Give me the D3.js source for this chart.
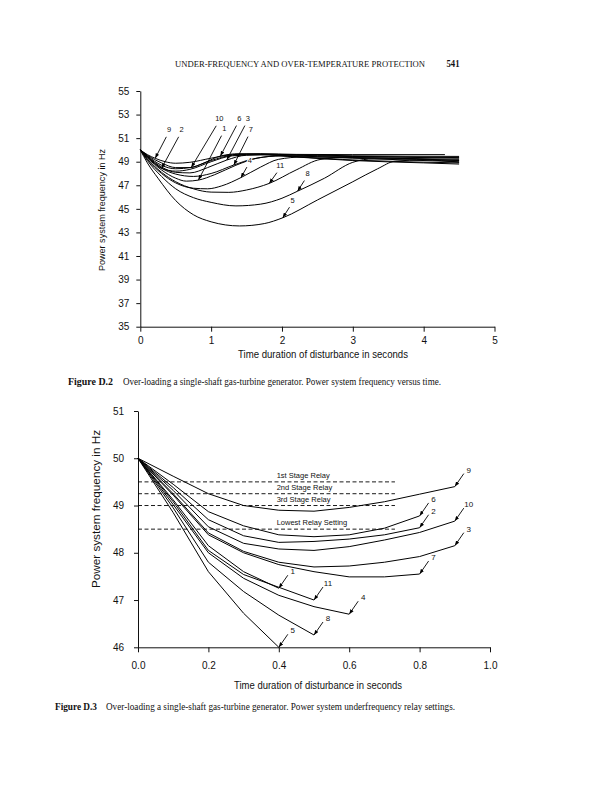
<!DOCTYPE html>
<html><head><meta charset="utf-8">
<script src="https://cdn.jsdelivr.net/npm/d3@7"></script>
<style>
body{margin:0;background:#fff}
text{fill:#111}
.sans{font-family:"Liberation Sans",Arial,Helvetica,sans-serif}
.serif{font-family:"Liberation Serif","Times New Roman",Times,serif}
.halo{stroke:#fff;stroke-width:2.2px;paint-order:stroke;stroke-linejoin:round}
</style>
</head><body>
<svg id="page" width="615" height="800"></svg>
<script>
// ---------- DATA: Figure D.2 (time in s, frequency in Hz) ----------
const fig2Names = ["9","2","10","6","3","1","7","4","11","8","5"];
const fig2_c9  = [[0,50],[0.1,49.6],[0.21,49.29],[0.35,49.0],[0.5,48.87],[0.7,48.95],[1.0,49.3],[1.3,49.6],[1.7,49.68],[2.2,49.62],[3.0,49.6],[4.3,49.6]];
const fig2_c2  = [[0,50],[0.1,49.45],[0.3,48.44],[0.5,48.2],[0.7,48.35],[1.0,49.0],[1.3,49.5],[1.7,49.6],[2.2,49.4],[3.0,49.1],[4.0,48.9],[4.5,48.8]];
const fig2_c10 = [[0,50],[0.1,49.5],[0.3,48.7],[0.5,48.4],[0.72,48.52],[1.0,49.1],[1.3,49.55],[1.7,49.65],[2.5,49.5],[3.5,49.4],[4.5,49.3]];
const fig2_c6  = [[0,50],[0.1,49.55],[0.3,48.9],[0.5,48.5],[0.7,48.5],[0.9,48.9],[1.13,49.48],[1.4,49.68],[1.8,49.6],[2.5,49.3],[3.2,49.1],[4.5,48.9]];
const fig2_c3  = [[0,50],[0.1,49.45],[0.3,48.55],[0.5,48.1],[0.7,48.05],[0.95,48.5],[1.22,49.14],[1.5,49.55],[2.0,49.6],[3.0,49.5],[4.5,49.45]];
const fig2_c1  = [[0,50],[0.1,49.35],[0.3,48.3],[0.5,47.6],[0.65,47.35],[0.82,47.44],[1.05,47.9],[1.35,48.7],[1.65,49.3],[2.0,49.5],[3.0,49.45],[4.5,49.35]];
const fig2_c7  = [[0,50],[0.1,49.4],[0.3,48.45],[0.5,47.95],[0.75,47.75],[1.0,48.0],[1.32,48.72],[1.6,49.25],[2.0,49.5],[3.0,49.3],[4.5,49.0]];
const fig2_c4  = [[0,50],[0.1,49.2],[0.3,48.0],[0.5,47.2],[0.75,46.75],[0.95,46.7],[1.15,46.95],[1.42,47.65],[1.7,48.55],[1.95,49.2],[2.3,49.4],[3.0,49.35],[4.5,49.2]];
const fig2_c11 = [[0,50],[0.1,49.25],[0.3,48.1],[0.5,47.3],[0.75,46.7],[1.0,46.42],[1.25,46.4],[1.5,46.6],[1.82,47.16],[2.2,48.3],[2.55,49.2],[2.9,49.35],[4.5,49.1]];
const fig2_c8  = [[0,50],[0.1,49.1],[0.3,47.75],[0.5,46.7],[0.75,45.95],[1.0,45.55],[1.35,45.25],[1.7,45.4],[2.0,45.9],[2.22,46.5],[2.6,47.6],[3.0,48.95],[3.3,49.25],[4.5,49.1]];
const fig2_c5  = [[0,50],[0.1,48.9],[0.25,47.6],[0.5,45.7],[0.75,44.5],[1.0,43.9],[1.4,43.55],[1.75,43.75],[2.01,44.24],[2.5,45.75],[3.0,47.3],[3.35,48.4],[3.6,49.05],[4.0,49.15],[4.5,48.95]];
const fig2Series = [fig2_c9,fig2_c2,fig2_c10,fig2_c6,fig2_c3,fig2_c1,fig2_c7,fig2_c4,fig2_c11,fig2_c8,fig2_c5];
const fig2TipTime = [0.21,0.3,0.72,1.13,1.22,0.82,1.32,1.42,1.82,2.22,2.01];
const fig2XTicks = [0,1,2,3,4,5];
const fig2YTicks = [35,37,39,41,43,45,47,49,51,53,55];

// ---------- DATA: Figure D.3 ----------
const fig3Time = [0,0.1,0.2,0.3,0.4,0.5,0.6,0.7,0.8,0.9];
const fig3Names = ["9","6","2","10","3","7","1","11","4","8","5"];
const fig3_c9  = [50,49.62,49.25,49.0,48.9,48.88,48.96,49.08,49.24,49.4];
const fig3_c6  = [50,49.45,48.87,48.57,48.38,48.34,48.38,48.52,48.78];
const fig3_c2  = [50,49.38,48.7,48.36,48.22,48.24,48.29,48.38,48.53];
const fig3_c10 = [50,49.32,48.55,48.2,48.08,48.05,48.13,48.27,48.43,48.67];
const fig3_c3  = [50,49.25,48.42,48.03,47.8,47.7,47.72,47.8,47.92,48.15];
const fig3_c7  = [50,49.22,48.38,48.0,47.75,47.6,47.49,47.49,47.55];
const fig3_c1  = [50,49.12,48.15,47.6,47.25];
const fig3_c11 = [50,49.08,48.05,47.54,47.27,47.0];
const fig3_c4  = [50,49.02,48.0,47.46,47.1,46.86,46.7];
const fig3_c8  = [50,48.95,47.8,47.18,46.68,46.26];
const fig3_c5  = [50,48.85,47.6,46.72,46.0];
const fig3Series = [fig3_c9,fig3_c6,fig3_c2,fig3_c10,fig3_c3,fig3_c7,fig3_c1,fig3_c11,fig3_c4,fig3_c8,fig3_c5];
const relayNames = ["1st Stage Relay","2nd Stage Relay","3rd Stage Relay","Lowest Relay Setting"];
const relayValues = [49.5,49.25,49.0,48.5];
const relayEnd = 0.73;
const fig3XTicks = [0,0.2,0.4,0.6,0.8,1.0];
const fig3YTicks = [46,47,48,49,50,51];

// ---------- LAYOUT / STYLE ----------
const svg = d3.select("#page");
svg.append("rect").attr("width",615).attr("height",800).attr("fill","#fff");
const defs = svg.append("defs");
defs.append("marker").attr("id","arr").attr("viewBox","0 0 8 6").attr("refX",8).attr("refY",3)
  .attr("markerWidth",5).attr("markerHeight",4).attr("orient","auto").attr("markerUnits","userSpaceOnUse")
  .append("path").attr("d","M0,0 L8,3 L0,6 z").attr("fill","#000");

// label offsets (px) for Fig D.2 annotations, in series order
const fig2LabelOff = [[13,-25],[19,-35],[27,-45],[18,-34],[20,-38],[25,-48],[16,-32],[8,-14],[10,-14],[9,-14],[9,-14]];

// header
svg.append("text").attr("class","serif").attr("x",175).attr("y",66.5).attr("font-size",9)
  .attr("textLength",250).attr("lengthAdjust","spacingAndGlyphs")
  .text("UNDER-FREQUENCY AND OVER-TEMPERATURE PROTECTION");
svg.append("text").attr("class","serif").attr("x",446.5).attr("y",66.5).attr("font-size",9.5)
  .attr("font-weight","bold").attr("textLength",13).attr("lengthAdjust","spacingAndGlyphs").text("541");

// ---------- FIGURE D.2 ----------
(function(){
  const x = d3.scaleLinear().domain([0,5]).range([140.3,494.5]);
  const y = d3.scaleLinear().domain([35,55]).range([326.7,91]);
  const g = svg.append("g");
  const ax = g.append("g").attr("transform",`translate(0,${y(35)})`)
    .call(d3.axisBottom(x).tickValues(fig2XTicks).tickFormat(d3.format("d")).tickSize(5).tickSizeOuter(0).tickPadding(5));
  const ay = g.append("g").attr("transform",`translate(${x(0)},0)`)
    .call(d3.axisLeft(y).tickValues(fig2YTicks).tickFormat(d3.format("d")).tickSize(4).tickSizeOuter(0).tickPadding(7));
  [ax,ay].forEach(a=>{
    a.selectAll("text").attr("class","sans").attr("font-size",10).attr("fill","#111");
    a.selectAll("line,path").attr("stroke","#111").attr("stroke-width",1);
  });
  const line = d3.line().x(d=>x(d[0])).y(d=>y(d[1])).curve(d3.curveMonotoneX);
  g.selectAll("path.c").data(fig2Series).enter().append("path").attr("class","c")
    .attr("d",line).attr("fill","none").attr("stroke","#000").attr("stroke-width",1);
  // annotations
  fig2Series.forEach((s,i)=>{
    const p = s.find(d=>Math.abs(d[0]-fig2TipTime[i])<1e-9);
    const tx = x(p[0]), ty = y(p[1]);
    const lx = tx+fig2LabelOff[i][0], ly = ty+fig2LabelOff[i][1];
    const len = Math.hypot(lx-tx,ly-ty), ux=(lx-tx)/len, uy=(ly-ty)/len;
    g.append("line").attr("x1",lx-ux*4).attr("y1",ly-uy*4).attr("x2",tx).attr("y2",ty)
      .attr("stroke","#000").attr("stroke-width",0.9).attr("marker-end","url(#arr)");
    g.append("text").attr("class","sans halo").attr("x",lx+1).attr("y",ly-1).attr("font-size",7.5)
      .attr("text-anchor","middle").text(fig2Names[i]);
  });
  g.append("text").attr("class","sans").attr("x",323).attr("y",358).attr("font-size",10)
    .attr("text-anchor","middle").attr("textLength",170).attr("lengthAdjust","spacingAndGlyphs")
    .text("Time duration of disturbance in seconds");
  g.append("text").attr("class","sans").attr("transform","translate(105,210) rotate(-90)").attr("font-size",9.5)
    .attr("text-anchor","middle").attr("textLength",122).attr("lengthAdjust","spacingAndGlyphs")
    .text("Power system frequency in Hz");
})();

// caption D.2
svg.append("text").attr("class","serif").attr("x",68).attr("y",384.5).attr("font-size",9.5).attr("font-weight","bold")
  .attr("textLength",45).attr("lengthAdjust","spacingAndGlyphs").text("Figure D.2");
svg.append("text").attr("class","serif").attr("x",123).attr("y",384.5).attr("font-size",9.5)
  .attr("textLength",318).attr("lengthAdjust","spacingAndGlyphs")
  .text("Over-loading a single-shaft gas-turbine generator. Power system frequency versus time.");

// ---------- FIGURE D.3 ----------
(function(){
  const x = d3.scaleLinear().domain([0,1]).range([138,490]);
  const y = d3.scaleLinear().domain([46,51]).range([647.3,411]);
  const g = svg.append("g");
  const ax = g.append("g").attr("transform",`translate(0,${y(46)})`)
    .call(d3.axisBottom(x).tickValues(fig3XTicks).tickFormat(d3.format(".1f")).tickSize(5).tickSizeOuter(0).tickPadding(10));
  const ay = g.append("g").attr("transform",`translate(${x(0)},0)`)
    .call(d3.axisLeft(y).tickValues(fig3YTicks).tickFormat(d3.format("d")).tickSize(4).tickSizeOuter(0).tickPadding(10));
  [ax,ay].forEach(a=>{
    a.selectAll("text").attr("class","sans").attr("font-size",10).attr("fill","#111");
    a.selectAll("line,path").attr("stroke","#111").attr("stroke-width",1);
  });
  // relay settings
  relayValues.forEach((v,i)=>{
    g.append("line").attr("x1",x(0)).attr("x2",x(relayEnd)).attr("y1",y(v)).attr("y2",y(v))
      .attr("stroke","#000").attr("stroke-width",0.9).attr("stroke-dasharray","4,2.5");
    g.append("text").attr("class","sans").attr("x",x(0.394)).attr("y",y(v)-4).attr("font-size",7.5)
      .text(relayNames[i]);
  });
  const line = d3.line().x((d,i)=>x(fig3Time[i])).y(d=>y(d)).curve(d3.curveLinear);
  g.selectAll("path.c").data(fig3Series).enter().append("path").attr("class","c")
    .attr("d",line).attr("fill","none").attr("stroke","#000").attr("stroke-width",1);
  fig3Series.forEach((s,i)=>{
    const k = s.length-1;
    const tx = x(fig3Time[k]), ty = y(s[k]);
    g.append("line").attr("x1",tx+9).attr("y1",ty-13).attr("x2",tx).attr("y2",ty)
      .attr("stroke","#000").attr("stroke-width",0.9).attr("marker-end","url(#arr)");
    g.append("text").attr("class","sans").attr("x",tx+14).attr("y",ty-14).attr("font-size",8)
      .attr("text-anchor","middle").text(fig3Names[i]);
  });
  g.append("text").attr("class","sans").attr("x",318).attr("y",689).attr("font-size",10)
    .attr("text-anchor","middle").attr("textLength",168).attr("lengthAdjust","spacingAndGlyphs")
    .text("Time duration of disturbance in seconds");
  g.append("text").attr("class","sans").attr("transform","translate(100,509) rotate(-90)").attr("font-size",10)
    .attr("text-anchor","middle").attr("textLength",158).attr("lengthAdjust","spacingAndGlyphs")
    .text("Power system frequency in Hz");
})();

// caption D.3
svg.append("text").attr("class","serif").attr("x",55).attr("y",709.5).attr("font-size",9.5).attr("font-weight","bold")
  .attr("textLength",42).attr("lengthAdjust","spacingAndGlyphs").text("Figure D.3");
svg.append("text").attr("class","serif").attr("x",106).attr("y",709.5).attr("font-size",9.5)
  .attr("textLength",349).attr("lengthAdjust","spacingAndGlyphs")
  .text("Over-loading a single-shaft gas-turbine generator. Power system underfrequency relay settings.");
</script>
</body></html>
